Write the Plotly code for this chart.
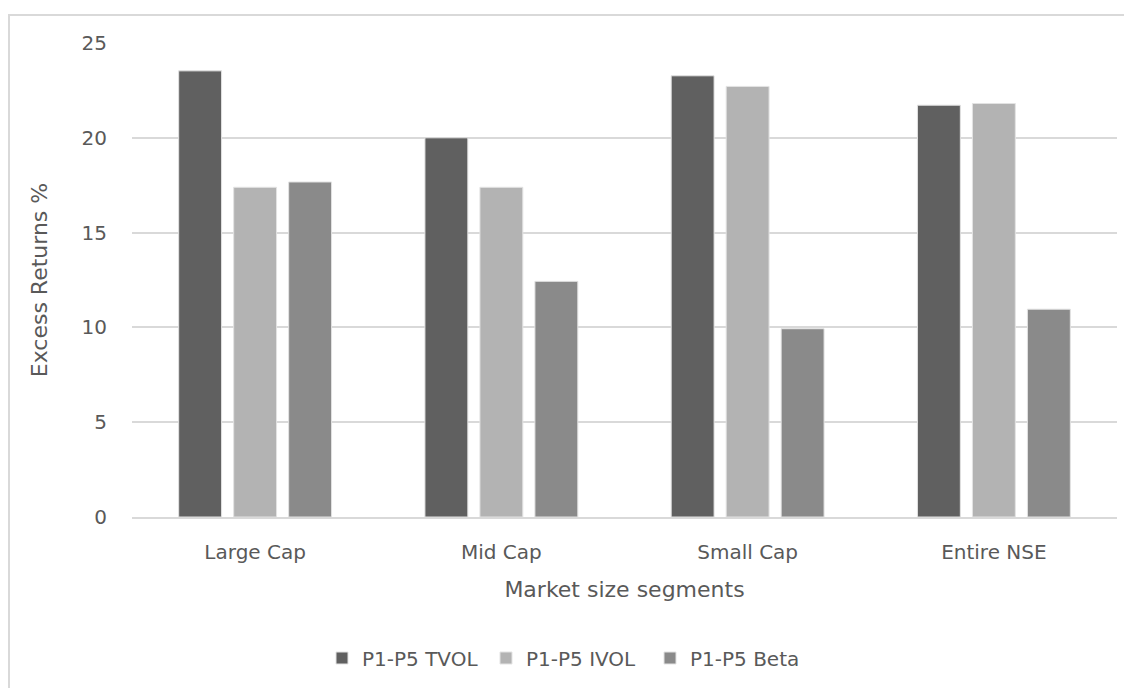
import plotly.graph_objects as go

categories = ["Large Cap", "Mid Cap", "Small Cap", "Entire NSE"]
series_names = ["P1-P5 TVOL", "P1-P5 IVOL", "P1-P5 Beta"]
tvol = [23.53, 20.0, 23.27, 21.72]
ivol = [17.39, 17.39, 22.71, 21.81]
beta = [17.67, 12.43, 9.93, 10.96]
colors = ["#606060", "#b3b3b3", "#8a8a8a"]
y_ticks = [0, 5, 10, 15, 20, 25]

FONT = "DejaVu Sans"
TXT = "#595959"

W, H = 1124, 680
L, R, T, B = 124, 15, 35, 170
PW = W - L - R
PH = H - T - B

fig = go.Figure()
for name, vals, col in zip(series_names, [tvol, ivol, beta], colors):
    fig.add_trace(go.Bar(
        x=categories, y=vals, name=name,
        marker=dict(color=col, line=dict(color="#e3e3e3", width=1)),
    ))

fig.update_layout(
    width=W, height=H,
    margin=dict(l=L, r=R, t=T, b=B),
    paper_bgcolor="white", plot_bgcolor="white",
    barmode="group", bargap=0.33, bargroupgap=0.22,
    font=dict(family=FONT, color=TXT, size=20),
    showlegend=True,
    legend=dict(orientation="h", x=(322 - 8 - L) / PW, xanchor="left",
                y=(H - B - (658 - 8)) / PH, yanchor="middle",
                font=dict(size=20, color=TXT), entrywidth=119, traceorder="normal"),
    xaxis=dict(
        title=dict(text="Market size segments", font=dict(size=22, color=TXT), standoff=19),
        showgrid=False, showline=True, linecolor="#d9d9d9", linewidth=2,
        ticks="", tickfont=dict(size=20, color=TXT), ticklabelstandoff=16,
    ),
    yaxis=dict(
        title=dict(text="Excess Returns %", font=dict(size=22, color=TXT), standoff=27),
        range=[0, 25], tickvals=y_ticks, showgrid=True, gridcolor="#d9d9d9", gridwidth=2,
        zeroline=False, showline=False, ticks="", tickfont=dict(size=20, color=TXT),
        ticklabelstandoff=24,
    ),
    shapes=[dict(type="rect", xref="paper", yref="paper",
                 x0=(1 - L) / PW, x1=(W + 20 - L) / PW,
                 y0=(H - B - (H + 20)) / PH, y1=(H - B - 7) / PH,
                 line=dict(color="#d9d9d9", width=2), fillcolor="rgba(0,0,0,0)", layer="below")],
)

fig.write_html("out.html")
